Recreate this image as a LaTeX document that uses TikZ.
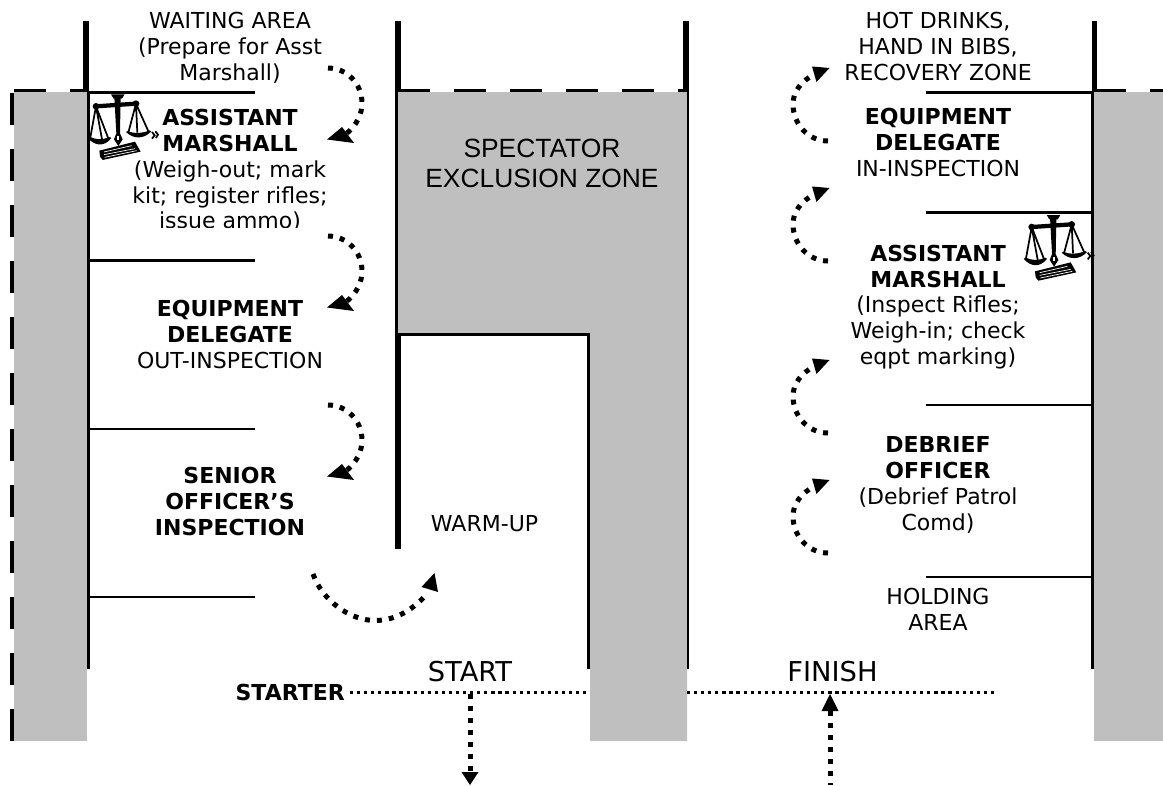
\documentclass[tikz,border=0pt]{standalone}
\usepackage{fontspec}
\setmainfont{DejaVu Sans}
\newfontfamily\arialish{Liberation Sans}
\newcommand{\scalesicon}[2]{%
\begin{scope}[shift={(#1,#2)},scale=0.3333]
\fill (333,283) -- (374,283) -- (366,296) -- (341,296) -- cycle;
\fill (343,290) -- (362,290) -- (360,400) -- (368,418) -- (355,438) -- (342,418) -- (349,400) -- cycle;
\fill[white] (352,408) -- (358,408) -- (358,420) -- (352,420) -- cycle;
\draw[line width=3.2pt] (288,319) -- (408,311);
\fill (288,319) circle (10) (408,311) circle (10);
\draw[line width=1.3pt] (288,319) -- (270,418) (288,319) -- (306,418) (288,319) -- (326,418);
\draw[line width=1.3pt] (408,311) -- (385,398) (408,311) -- (412,398) (408,311) -- (447,398);
\fill (264,414) .. controls (285,440) and (315,440) .. (334,414) -- (328,411) .. controls (310,420) and (290,420) .. (270,411) -- cycle;
\fill (378,396) .. controls (400,418) and (432,418) .. (454,394) -- (448,391) .. controls (430,400) and (400,402) .. (384,393) -- cycle;
\fill (298,452) -- (405,425) -- (422,455) -- (308,480) -- (300,470) -- cycle;
\draw[white,line width=0.5pt] (312,456) -- (395,437) (312,464) -- (405,446) (314,472) -- (410,452);
\draw[line width=1.3pt] (456,396) -- (464,406) -- (456,416) (466,394) -- (474,404) -- (468,414);
\end{scope}}
\begin{document}
\begin{tikzpicture}[x=0.75pt,y=-0.75pt,
  lab/.style={font=\fontsize{16.5pt}{19.4pt}\selectfont,align=center,text=black,inner sep=0pt},
  biglab/.style={font=\fontsize{20.5pt}{22pt}\selectfont,align=center,inner sep=0pt},
  zonelab/.style={font=\arialish\fontsize{19.8pt}{22.5pt}\selectfont,align=center,inner sep=0pt},
  thin line/.style={line width=2.1pt},
  wall/.style={line width=4.4pt},
  grey area/.style={fill=black!25},
  barrier/.style={line width=2.6pt,dash pattern=on 24pt off 18pt},
  dots/.style={line width=3.75pt,dash pattern=on 3.75pt off 5.25pt},
  fine dots/.style={line width=2.4pt,dash pattern=on 2.4pt off 2.9pt}]
\useasboundingbox (0,0) rectangle (1163,785);
% grey
\fill[grey area] (14,92) rectangle (87,741);
\fill[grey area] (397.5,92) -- (687,92) -- (687,741) -- (590,741) -- (590,335) -- (397.5,335) -- cycle;
\fill[grey area] (1094,92) rectangle (1163,741);
% walls
\draw[wall] (86,21) -- (86,92);
\draw[wall] (398,21) -- (398,92);
\draw[wall] (686,21) -- (686,92);
\draw[wall] (1094.5,21) -- (1094.5,92);
\draw[thin line] (88.2,92) -- (88.2,669);
\draw[thin line] (396.3,92) -- (396.3,334);
\draw[thin line] (396,334.5) -- (588.5,334.5) -- (588.5,669);
\draw[thin line] (688,92) -- (688,669);
\draw[thin line] (1092.7,92) -- (1092.7,669);
\draw[wall] (398,333) -- (398,549);
% dashed
\draw[barrier] (14,90.3) -- (88,90.3);
\draw[barrier] (398,90.3) -- (688,90.3);
\draw[barrier] (1094,90.3) -- (1163,90.3);
\draw[line width=3pt,dash pattern=on 24pt off 18pt] (12,93) -- (12,741);
% shelves
\foreach \y in {92.5,260.5,429,597} \draw[thin line] (88,\y) -- (255,\y);
\foreach \y in {92.5,212.5,405,577} \draw[thin line] (925.5,\y) -- (1093,\y);
% text
\node[lab] (wait) at (230,47.5) {WAITING AREA\\(Prepare for Asst\\Marshall)};
\node[lab] (am1) at (230,170.5) {\textbf{ASSISTANT}\\\textbf{MARSHALL}\\(Weigh-out; mark\\kit; register rifles;\\issue ammo)};
\fill[white] (150,228) rectangle (310,238);
\node[lab] (ed1) at (230,334.5) {\textbf{EQUIPMENT}\\\textbf{DELEGATE}\\OUT-INSPECTION};
\node[lab] (so) at (230,501.5) {\textbf{SENIOR}\\\textbf{OFFICER’S}\\\textbf{INSPECTION}};
\node[lab] (warm) at (484.5,524) {WARM-UP};
\node[zonelab] (excl) at (542,163) {SPECTATOR\\EXCLUSION ZONE};
\node[lab] (hot) at (938,46.5) {HOT DRINKS,\\HAND IN BIBS,\\RECOVERY ZONE};
\node[lab] (ed2) at (938,142.5) {\textbf{EQUIPMENT}\\\textbf{DELEGATE}\\IN-INSPECTION};
\node[lab] (am2) at (938,307) {\textbf{ASSISTANT}\\\textbf{MARSHALL}\\(Inspect Rifles;\\Weigh-in; check\\eqpt marking)};
\node[lab] (deb) at (938,485) {\textbf{DEBRIEF}\\\textbf{OFFICER}\\(Debrief Patrol\\Comd)};
\node[lab] (hold) at (938,609) {HOLDING\\AREA};
\node[biglab] (start) at (470,672) {START};
\node[biglab] (finish) at (832.5,672) {FINISH};
\node[lab,anchor=east] (starter) at (345,692) {\textbf{STARTER}};
% icons
\scalesicon{0}{0}
\scalesicon{935.7}{120.7}
% start line
\coordinate (s1) at (350,692.8); \coordinate (s2) at (588,692.8);
\coordinate (s3) at (687,692.8); \coordinate (s4) at (995,692.8);
\draw[fine dots] (s1) -- (s2);
\draw[fine dots] (s3) -- (s4);
\coordinate (d1) at (470,693.5); \coordinate (d2) at (470,772);
\coordinate (u1) at (830,785); \coordinate (u2) at (830,711);
\draw[dots] (d1) -- (d2);
\fill (461.5,772) -- (478.5,772) -- (470,785) -- cycle;
\draw[dots,dash phase=2.6pt] (u1) -- (u2);
\fill (821.5,711) -- (838.5,711) -- (830,694) -- cycle;
% curved arrows
\foreach \y in {0,168,337} {
 \draw[dots] (328,68+\y) .. controls (347,68+\y) and (362,84+\y) .. (362,103+\y) .. controls (362,114+\y) and (357,125+\y) .. (346,134+\y);
 \fill (327,139.5+\y) -- (342,127+\y) -- (354,143+\y) -- cycle;
}
\foreach \y in {0,120,292,412} {
 \draw[dots] (828,141+\y) .. controls (808,141+\y) and (793,124+\y) .. (793,104+\y) .. controls (793,92+\y) and (801,81+\y) .. (815,74+\y);
 \fill (829.5,68+\y) -- (812,66.5+\y) -- (816.5,82+\y) -- cycle;
}
\draw[dots] (313,574) .. controls (322,600) and (350,621) .. (376,620.5) .. controls (398,620) and (414,608) .. (426,595);
\fill (434.5,573) -- (421.5,587) -- (438,592) -- cycle;
\end{tikzpicture}
\end{document}
